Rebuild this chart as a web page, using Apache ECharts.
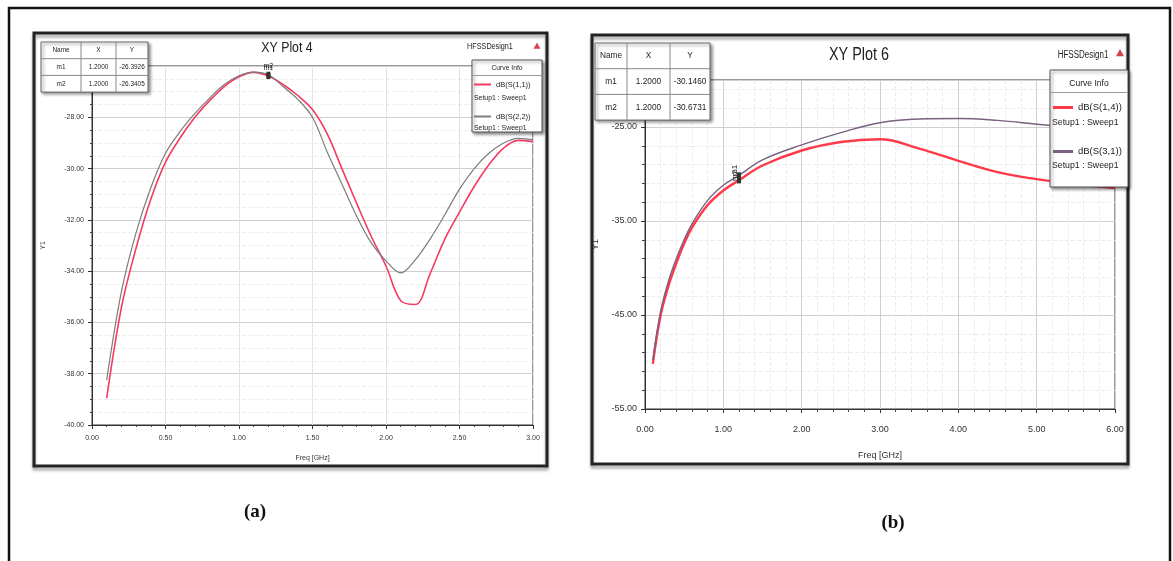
<!DOCTYPE html>
<html>
<head>
<meta charset="utf-8">
<title>XY Plot 4 / XY Plot 6</title>
<script src="https://cdn.jsdelivr.net/npm/echarts@6/dist/echarts.min.js"></script>
<style>
  html, body { margin: 0; padding: 0; background: #fff; }
  #chart { width: 1173px; height: 561px; }
</style>
</head>
<body>
<div id="chart"></div>
<script>
// ---- plot (a) : XY Plot 4 ----
const freqA = [0.1, 0.2, 0.3, 0.4, 0.5, 0.6, 0.7, 0.8, 0.9, 1.0,
               1.1, 1.2, 1.3, 1.4, 1.5, 1.6, 1.7, 1.8, 1.9, 2.0,
               2.1, 2.2, 2.3, 2.4, 2.5, 2.6, 2.7, 2.8, 2.9, 3.0];
const s11A = [-38.95, -35.42, -33.1, -31.2, -29.75, -28.8, -28.0, -27.35, -26.8, -26.42,
              -26.25, -26.39, -26.72, -27.15, -27.7, -28.65, -30.0, -31.35, -32.65, -33.8,
              -35.15, -35.3, -34.1, -32.75, -31.7, -30.7, -29.85, -29.2, -28.9, -28.95];
const s22A = [-38.25, -34.8, -32.5, -30.75, -29.4, -28.55, -27.85, -27.25, -26.72, -26.38,
              -26.24, -26.34, -26.8, -27.3, -28.0, -29.35, -30.6, -31.85, -32.9, -33.6,
              -34.07, -33.55, -32.75, -31.8, -30.8, -30.0, -29.4, -29.0, -28.82, -28.88];
const markersA = [['m1', 1.2, -26.3926], ['m2', 1.2, -26.3405]];
const tableA = [['Name', 'X', 'Y'], ['m1', '1.2000', '-26.3926'], ['m2', '1.2000', '-26.3405']];

// ---- plot (b) : XY Plot 6 ----
const freqB = [0.1, 0.2, 0.3, 0.4, 0.5, 0.6, 0.8, 1.0, 1.2, 1.5,
               2.0, 2.5, 3.0, 3.5, 4.0, 4.5, 5.0, 5.5, 6.0];
const s14B = [-50.2, -45.0, -41.9, -39.5, -37.4, -35.7, -33.3, -31.75, -30.67, -29.1,
              -27.5, -26.6, -26.3, -27.3, -28.6, -29.8, -30.55, -31.1, -31.5];
const s31B = [-49.8, -44.6, -41.4, -39.0, -37.0, -35.3, -32.8, -31.2, -30.15, -28.5,
              -26.9, -25.6, -24.55, -24.15, -24.1, -24.3, -24.7, -25.1, -25.6];
const markersB = [['m1', 1.2, -30.1460], ['m2', 1.2, -30.6731]];
const tableB = [['Name', 'X', 'Y'], ['m1', '1.2000', '-30.1460'], ['m2', '1.2000', '-30.6731']];

const FONT = "'Liberation Sans', Arial, sans-serif";
const RED_A = '#f43a62', GRAY_A = '#7c7c7c';
const RED_B = '#ff3a48', PURPLE_B = '#7a5f80';
const ZG = 50;   // graphic overlay (tables, legend boxes) above axes and lines
const ZL = 60;   // legend items above their boxes

const chart = echarts.init(document.getElementById('chart'));

const pairs = (xs, ys) => xs.map((x, i) => [x, ys[i]]);
const fix2 = v => v.toFixed(2);

function txt(x, y, text, fs, opts) {
    opts = opts || {};
    return {
        type: 'text', x, y, z: ZG, scaleX: opts.sx || 1,
        style: { text, fontSize: fs, fontFamily: FONT, fill: '#222', fontWeight: opts.bold ? 'bold' : 'normal',
                 align: opts.align || 'center', verticalAlign: 'middle' }
    };
}

// marker table, every cell placed directly (no group)
function markerTable(x, y, colW, rowH, rows, fs) {
    const w = colW.reduce((a, b) => a + b, 0);
    const h = rowH * rows.length;
    const els = [{
        type: 'rect', z: ZG, shape: { x, y, width: w, height: h },
        style: { fill: '#fff', stroke: '#666', lineWidth: 1,
                 shadowBlur: 3, shadowOffsetX: 2, shadowOffsetY: 2, shadowColor: 'rgba(0,0,0,0.45)' }
    }];
    for (let r = 1; r < rows.length; r++) {
        els.push({ type: 'line', z: ZG, shape: { x1: x, y1: y + r * rowH, x2: x + w, y2: y + r * rowH },
                   style: { stroke: '#888', lineWidth: 1 } });
    }
    let cx = x;
    colW.forEach((cw, c) => {
        if (c > 0) {
            els.push({ type: 'line', z: ZG, shape: { x1: cx, y1: y, x2: cx, y2: y + h },
                       style: { stroke: '#888', lineWidth: 1 } });
        }
        rows.forEach((row, r) => els.push(txt(cx + cw / 2, y + r * rowH + rowH / 2, row[c], fs, { sx: 0.92 })));
        cx += cw;
    });
    return els;
}

function legendBox(x, y, w, h, headY, fs, setupYs) {
    const els = [{
        type: 'rect', z: ZG, shape: { x, y, width: w, height: h },
        style: { fill: '#fff', stroke: '#555', lineWidth: 1,
                 shadowBlur: 3, shadowOffsetX: 2, shadowOffsetY: 2, shadowColor: 'rgba(0,0,0,0.45)' }
    }, {
        type: 'line', z: ZG, shape: { x1: x, y1: headY + fs, x2: x + w, y2: headY + fs },
        style: { stroke: '#999', lineWidth: 1 }
    }, txt(x + w / 2, headY, 'Curve Info', fs, { sx: 0.9 })];
    setupYs.forEach(sy => els.push(txt(x + 2, sy, 'Setup1 : Sweep1', fs, { align: 'left', sx: 0.92 })));
    return els;
}

function tri(x, y, s) {
    return { type: 'polygon', z: ZG, shape: { points: [[x, y - s], [x - s, y + s * 0.8], [x + s, y + s * 0.8]] },
             style: { fill: '#d8404a' } };
}

function markPts(list, idx, rotate, fs) {
    return {
        symbol: 'rect', symbolSize: [4, 6],
        itemStyle: { color: '#333' },
        label: { show: true, position: 'top', distance: 2, fontSize: fs, fontFamily: FONT, color: '#222',
                 rotate: rotate, formatter: list[idx][0] },
        data: [{ coord: [list[idx][1], list[idx][2]] }]
    };
}

const axisCommon = (fs) => ({
    type: 'value',
    axisLine: { show: true, lineStyle: { color: '#333', width: 1 } },
    axisTick: { show: true, length: 4, lineStyle: { color: '#333' } },
    axisLabel: { fontSize: fs, fontFamily: FONT, color: '#333', formatter: fix2 },
    nameTextStyle: { fontSize: fs, fontFamily: FONT, color: '#333' },
    nameLocation: 'middle'
});

const option = {
    backgroundColor: '#fff',
    animation: false,
    grid: [
        { left: 92, top: 66, width: 441, height: 359, show: true, borderColor: '#333', borderWidth: 1, backgroundColor: '#fff' },
        { left: 645, top: 80, width: 470, height: 329, show: true, borderColor: '#333', borderWidth: 1, backgroundColor: '#fff' }
    ],
    xAxis: [
        Object.assign(axisCommon(7), {
            gridIndex: 0, min: 0, max: 3, interval: 0.5, name: 'Freq [GHz]', nameGap: 30,
            axisLabel: { fontSize: 7, fontFamily: FONT, color: '#333', formatter: fix2, margin: 10 },
            minorTick: { show: true, splitNumber: 5, length: 2, lineStyle: { color: '#444' } },
            splitLine: { show: true, lineStyle: { color: '#e2e2e2' } },
            minorSplitLine: { show: false }
        }),
        Object.assign(axisCommon(9), {
            gridIndex: 1, min: 0, max: 6, interval: 1, name: 'Freq [GHz]', nameGap: 42,
            axisLabel: { fontSize: 9, fontFamily: FONT, color: '#333', formatter: fix2, margin: 16 },
            minorTick: { show: true, splitNumber: 5, length: 3, lineStyle: { color: '#444' } },
            splitLine: { show: true, lineStyle: { color: '#cfcfcf' } },
            minorSplitLine: { show: true, lineStyle: { color: '#ececec', type: 'dashed' } }
        })
    ],
    yAxis: [
        Object.assign(axisCommon(7), {
            gridIndex: 0, min: -40, max: -26, interval: 2, name: 'Y1', nameGap: 45,
            minorTick: { show: true, splitNumber: 4, length: 2, lineStyle: { color: '#444' } },
            splitLine: { show: true, lineStyle: { color: '#cfcfcf' } },
            minorSplitLine: { show: true, lineStyle: { color: '#ededed', type: 'dashed' } }
        }),
        Object.assign(axisCommon(9), {
            gridIndex: 1, min: -55, max: -20, interval: 10, name: 'Y1', nameGap: 45,
            axisLabel: { fontSize: 9, fontFamily: FONT, color: '#333', formatter: fix2, showMaxLabel: false },
            minorTick: { show: true, splitNumber: 5, length: 3, lineStyle: { color: '#444' } },
            splitLine: { show: true, lineStyle: { color: '#cfcfcf' } },
            minorSplitLine: { show: true, lineStyle: { color: '#ececec', type: 'dashed' } }
        })
    ],
    legend: [
        {
            data: ['dB(S(1,1))', 'dB(S(2,2))'], left: 474, top: 80, orient: 'vertical',
            icon: 'rect', itemWidth: 17, itemHeight: 2, itemGap: 23, padding: 0, z: ZL,
            selectedMode: false, textStyle: { fontSize: 7.5, fontFamily: FONT, color: '#222', lineHeight: 9 }
        },
        {
            data: ['dB(S(1,4))', 'dB(S(3,1))'], left: 1053, top: 102, orient: 'vertical',
            icon: 'rect', itemWidth: 20, itemHeight: 3, itemGap: 33, padding: 0, z: ZL,
            selectedMode: false, textStyle: { fontSize: 9.5, fontFamily: FONT, color: '#222', lineHeight: 11 }
        }
    ],
    series: [
        { name: 'dB(S(1,1))', type: 'line', xAxisIndex: 0, yAxisIndex: 0, data: pairs(freqA, s11A),
          smooth: 0.35, showSymbol: false, color: RED_A, lineStyle: { width: 1.6 },
          markPoint: markPts(markersA, 0, 0, 7) },
        { name: 'dB(S(2,2))', type: 'line', xAxisIndex: 0, yAxisIndex: 0, data: pairs(freqA, s22A),
          smooth: 0.35, showSymbol: false, color: GRAY_A, lineStyle: { width: 1.2 },
          markPoint: markPts(markersA, 1, 0, 7) },
        { name: 'dB(S(1,4))', type: 'line', xAxisIndex: 1, yAxisIndex: 1, data: pairs(freqB, s14B),
          smooth: 0.4, showSymbol: false, color: RED_B, lineStyle: { width: 2.4 },
          markPoint: markPts(markersB, 1, 90, 8) },
        { name: 'dB(S(3,1))', type: 'line', xAxisIndex: 1, yAxisIndex: 1, data: pairs(freqB, s31B),
          smooth: 0.4, showSymbol: false, color: PURPLE_B, lineStyle: { width: 1.4 },
          markPoint: markPts(markersB, 0, 90, 8) }
    ],
    graphic: {
        z: ZG,
        elements: [
            // whole figure border
            { type: 'rect', z: ZG, shape: { x: 9, y: 8, width: 1161, height: 600 },
              style: { fill: 'none', stroke: '#111', lineWidth: 2.5 } },
            // frames of both screenshots
            { type: 'rect', z: ZG, shape: { x: 34, y: 33, width: 513, height: 433 },
              style: { fill: 'none', stroke: '#222', lineWidth: 3, shadowBlur: 3, shadowOffsetY: 3, shadowColor: 'rgba(0,0,0,0.35)' } },
            { type: 'rect', z: ZG, shape: { x: 592, y: 35, width: 536, height: 429 },
              style: { fill: 'none', stroke: '#222', lineWidth: 3, shadowBlur: 3, shadowOffsetY: 3, shadowColor: 'rgba(0,0,0,0.35)' } },
            // titles
            txt(287, 48, 'XY Plot 4', 15, { sx: 0.82 }),
            txt(490, 47, 'HFSSDesign1', 8.5, { sx: 0.85 }),
            tri(537, 46, 3.5),
            txt(859, 55, 'XY Plot 6', 18, { sx: 0.8 }),
            txt(1083, 55, 'HFSSDesign1', 10, { sx: 0.8 }),
            tri(1120, 53, 4),
            // marker tables
            ...markerTable(41, 42, [40, 35, 32], 16.7, tableA, 7),
            ...markerTable(595, 43, [32, 43, 40], 25.7, tableB, 9),
            // legend boxes
            ...legendBox(472, 60, 70, 72, 68, 7.5, [98, 128]),
            ...legendBox(1050, 70, 78, 117, 83, 9.5, [122, 165]),
            // captions
            { type: 'text', x: 255, y: 512, z: ZG,
              style: { text: '(a)', fontSize: 19, fontWeight: 'bold', fontFamily: "'Liberation Serif', 'DejaVu Serif', serif",
                       fill: '#111', align: 'center', verticalAlign: 'middle' } },
            { type: 'text', x: 893, y: 523, z: ZG,
              style: { text: '(b)', fontSize: 19, fontWeight: 'bold', fontFamily: "'Liberation Serif', 'DejaVu Serif', serif",
                       fill: '#111', align: 'center', verticalAlign: 'middle' } }
        ]
    }
};

chart.setOption(option);
</script>
</body>
</html>
